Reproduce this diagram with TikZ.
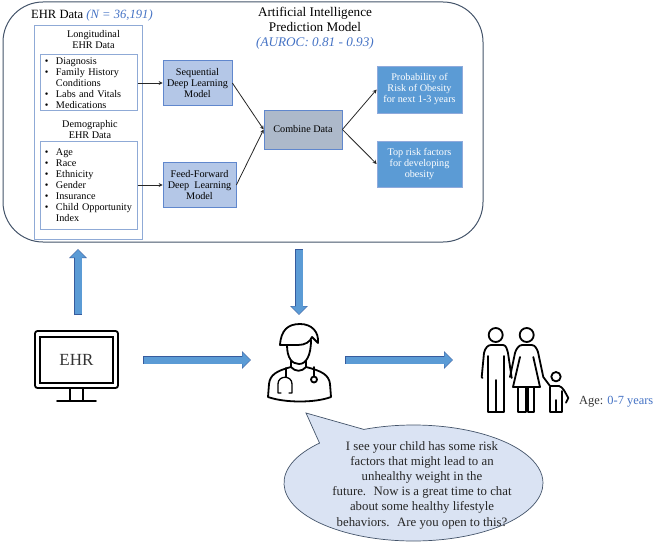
\documentclass[tikz,border=0pt]{standalone}
\usepackage{xcolor}
\usepackage{fontspec}
\setmainfont{Liberation Serif}
\usepackage{tikz}
\usetikzlibrary{arrows.meta,shapes.callouts}

\definecolor{aiblue}{HTML}{4472C4}
\definecolor{edgeslate}{HTML}{44546A}
\definecolor{panelblue}{HTML}{8FAAD6}
\definecolor{modelfill}{HTML}{B4C7E7}
\definecolor{combinefill}{HTML}{ADB9CA}
\definecolor{resultfill}{HTML}{5B9BD5}
\definecolor{bubblefill}{HTML}{DAE3F3}

\newcommand{\listitem}{\makebox[11pt][l]{\textbullet}}
\newcommand{\listcont}{\hspace*{11pt}}

\begin{document}
\begin{tikzpicture}[
  x=1pt, y=-1pt,
  panel/.style={rectangle, draw=panelblue, line width=1pt},
  listbox/.style={panel, minimum width=97pt, text width=87pt, inner xsep=5pt, inner ysep=0pt, align=left, font=\fontsize{10.2}{11}\selectfont},
  label/.style={inner sep=0pt, align=center, font=\fontsize{10.2}{11}\selectfont},
  title/.style={inner sep=0pt, align=center, font=\fontsize{13.2}{15}\selectfont},
  model/.style={rectangle, draw=aiblue!85, fill=modelfill, line width=0.7pt, minimum height=45pt, align=center, inner sep=0pt, font=\fontsize{10.2}{11}\selectfont},
  result/.style={model, fill=resultfill, draw=aiblue!60, text=white, minimum width=85pt},
  arrow/.style={-{Stealth[length=4pt,width=4pt]}, line width=0.8pt, draw=black!85},
  blockarrow/.style={-{Triangle[length=9pt,width=17pt]}, line width=8.4pt, draw=aiblue!80!black,
    postaction={draw=resultfill, line width=7pt, shorten <=0.7pt, shorten >=0.7pt, -{Triangle[length=8pt,width=15pt]}}},
  icon/.style={draw=black, line width=1.8pt, line cap=round, line join=round, fill=none}
]
\useasboundingbox (0,0) rectangle (654,543);

% AI model frame
\node[draw=edgeslate, line width=1pt, rounded corners=40pt, minimum width=480pt, minimum height=240pt, inner sep=0pt] (frame) at (243,122) {};

% EHR side
\node[title, anchor=west, font=\fontsize{12.6}{15}\selectfont] (ehrtitle) at (31,15) {EHR Data \textcolor{aiblue}{\textit{(N = 36,191)}}};
\node[panel, minimum width=108pt, minimum height=213pt] (ehrpanel) at (88,132.5) {};
\node[label] (longtitle) at (93.5,40) {Longitudinal\\EHR Data};
\node[listbox, minimum height=56pt] (longlist) at (88.5,83) {\listitem Diagnosis\\\listitem Family History\\\listcont Conditions\\\listitem Labs and Vitals\\\listitem Medications};
\node[label] (demotitle) at (90,130) {Demographic\\EHR Data};
\node[listbox, minimum height=88pt] (demolist) at (88.5,185) {\listitem Age\\\listitem Race\\\listitem Ethnicity\\\listitem Gender\\\listitem Insurance\\\listitem Child Opportunity\\\listcont Index};

% Models
\node[model, minimum width=69pt] (seqmodel) at (197.5,83) {Sequential\\Deep Learning\\Model};
\node[model, minimum width=73pt] (ffmodel) at (199.5,185) {Feed-Forward\\Deep~ Learning\\Model};
\node[model, fill=combinefill, minimum width=78pt, minimum height=39pt] (combine) at (303,129.5) {Combine Data};

% Outputs
\node[title] (aititle) at (315,28) {Artificial Intelligence\\Prediction Model\\\textcolor{aiblue}{\textit{(AUROC: 0.81 - 0.93)}}};
\node[result, minimum height=47pt] (risk) at (419.5,89.5) {Probability of\\Risk of Obesity\\for next 1-3 years};
\node[result, minimum height=46pt] (factors) at (419.5,164) {Top risk factors\\for developing\\obesity};

\draw[arrow] (longlist.east) -- (seqmodel.west);
\draw[arrow] (demolist.east) -- (ffmodel.west);
\draw[arrow] (seqmodel.east) -- (combine.west);
\draw[arrow] (ffmodel.east) -- (combine.west);
\draw[arrow] (combine.east) -- (risk.west);
\draw[arrow] (combine.east) -- (factors.west);

% Block arrows
\coordinate (upfrom) at (78,315);
\coordinate (upto) at (78,249);
\coordinate (downfrom) at (299,249);
\coordinate (downto) at (299,315);
\coordinate (ehrout) at (143,360);
\coordinate (docin) at (251,360);
\coordinate (docout) at (345,360);
\coordinate (famin) at (453,360);
\draw[blockarrow] (upfrom) -- (upto);
\draw[blockarrow] (downfrom) -- (downto);
\draw[blockarrow] (ehrout) -- (docin);
\draw[blockarrow] (docout) -- (famin);

% Monitor
\node[draw=black, line width=1.8pt, rounded corners=2.5pt, minimum width=83pt, minimum height=57pt] (monitor) at (76.5,359.5) {};
\node[draw=black, line width=1.8pt, minimum width=73pt, minimum height=46pt, inner sep=0pt, font=\fontsize{17}{17}\selectfont, text=black!80] (screen) at (76.5,360) {EHR};
\draw[icon] (70,388) -- (70,401) (83,388) -- (83,401) (57,401) -- (96,401);

% Doctor
\draw[icon] (280,345) .. controls (281,330) and (288,324) .. (300,324)
  .. controls (312,324) and (319,332) .. (318,343) -- (312,337)
  .. controls (310,342) and (305,345) .. (298,345) -- cycle;
\draw[icon] (287,345) .. controls (287,358) and (292,364) .. (299,364)
  .. controls (306,364) and (311,356) .. (311,340);
\draw[icon] (291,361) -- (291,367) (306,361) -- (306,367);
\draw[icon] (291,367) .. controls (295,372) and (302,372) .. (306,367);
\draw[icon] (291,367) .. controls (276,371) and (270,375) .. (269,384) -- (268,397)
  .. controls (285,403) and (315,403) .. (331,397) -- (330,384)
  .. controls (329,375) and (322,371) .. (306,367);
\draw[icon] (286,368) -- (286,377);
\draw[icon, line width=1.3pt] (281,393) -- (278,393) -- (278,384) .. controls (278,375) and (292,375) .. (292,384) -- (292,393) -- (289,393);
\draw[icon] (314,367) -- (314,376);
\draw[icon] (314,379.5) circle[radius=3];

% Family
\draw[icon] (495.7,335) circle[radius=7];
\draw[icon] (526.7,335) circle[radius=7];
\draw[icon] (556,376.7) circle[radius=4.7];
\draw[icon] (482.5,378) -- (481.7,377) -- (484,353) .. controls (485,348) and (488,345) .. (491,345) -- (503,345)
  .. controls (506,345) and (507,349) .. (508,353) -- (511.7,378);
\draw[icon] (487.7,356) -- (487.7,411.7) -- (503.7,411.7) -- (503.7,356) (495.7,380) -- (495.7,411.7);
\draw[icon] (510,377) -- (515,353) .. controls (516,349) and (519,345) .. (522,345) -- (531.7,345)
  .. controls (535,345) and (537,349) .. (538,352) -- (543.3,377) -- (550,386);
\draw[icon] (520,357) -- (513,387) -- (540,387) -- (533.3,357);
\draw[icon] (518,387) -- (518,411.7) -- (525.7,411.7) -- (525.7,387);
\draw[icon] (527.7,387) -- (527.7,411.7) -- (534.3,411.7) -- (534.3,387);
\draw[icon] (550,386) -- (559,386) .. controls (563,387) and (565,392) .. (568.3,398) -- (566,402.7);
\draw[icon] (550,387) -- (550,411.7) -- (561.7,411.7) -- (561.7,391) (556,400) -- (556,411.7);
\node[inner sep=0pt, anchor=west, font=\fontsize{12.4}{14}\selectfont, text=black!80] (agelabel) at (579,402) {Age: \textcolor{aiblue}{0-7 years}};

% Speech bubble
\coordinate (bubbletip) at (306,413);
\node[ellipse callout, callout absolute pointer=(bubbletip), callout pointer arc=24, draw=edgeslate, fill=bubblefill, line width=0.7pt,
  minimum width=259pt, minimum height=116pt, inner sep=0pt] (bubble) at (413.5,483) {};
\node[inner sep=0pt, align=center, font=\fontsize{12.8}{15.2}\selectfont, text=black!85] (bubbletext) at (422,485) {I see your child has some risk\\factors that might lead to an\\unhealthy weight in the\\future.~ Now is a great time to chat\\about some healthy lifestyle\\behaviors.~ Are you open to this?};

\end{tikzpicture}
\end{document}
